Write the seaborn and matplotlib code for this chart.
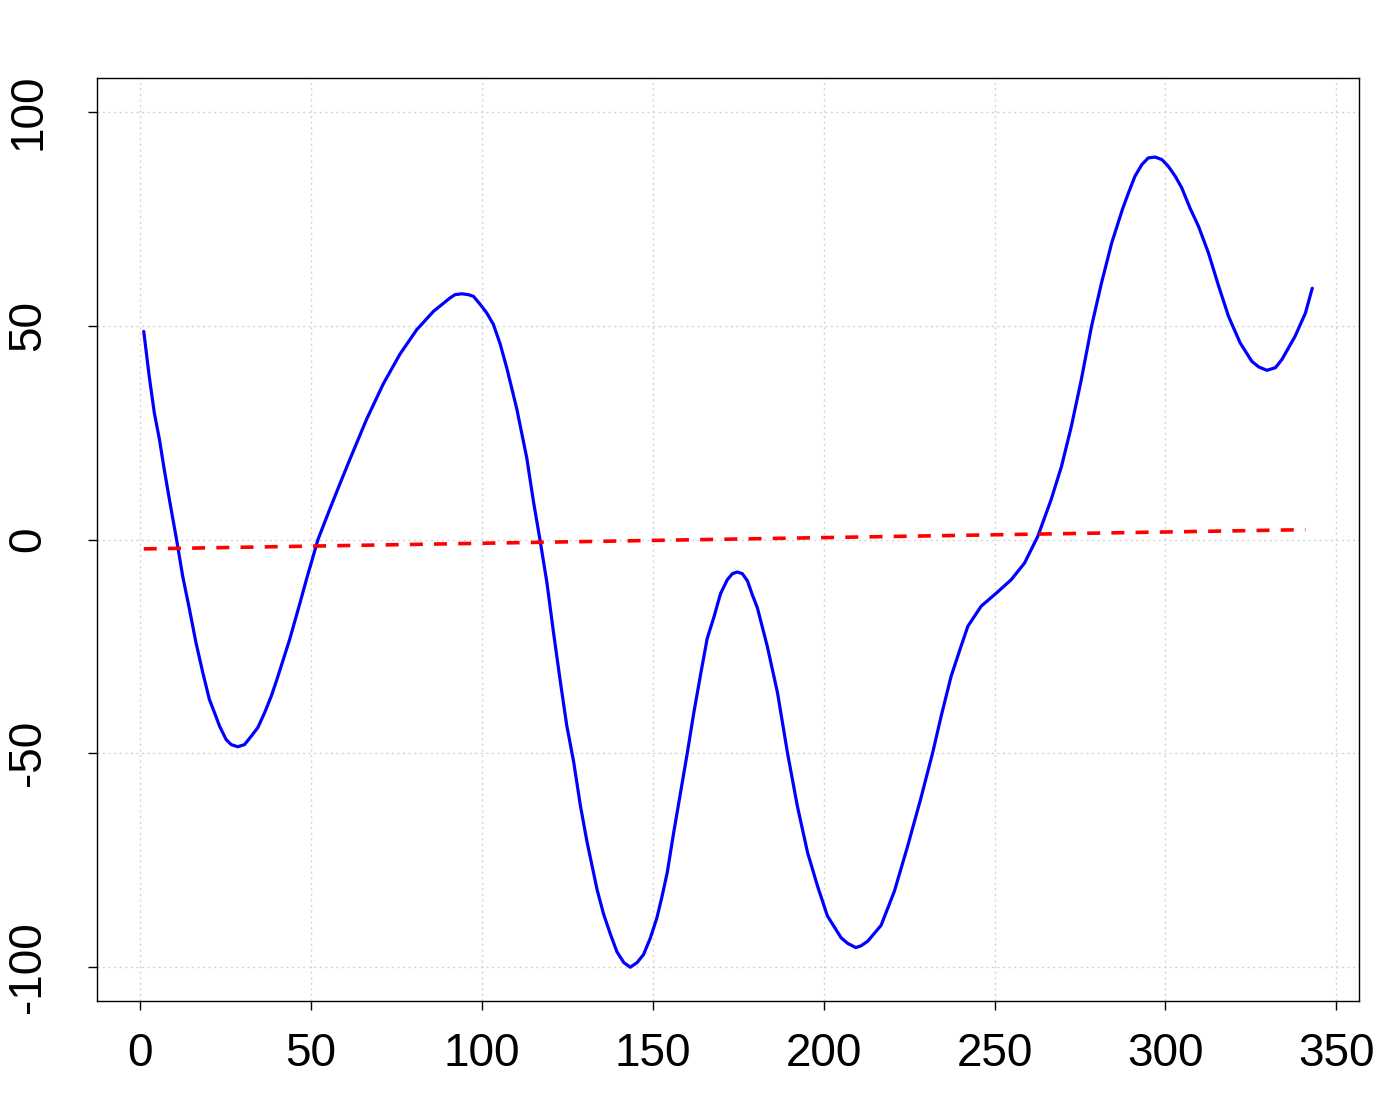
import matplotlib
matplotlib.use("Agg")
import matplotlib.pyplot as plt
import seaborn as sns
import pandas as pd

# Blue series
blue_x = [1.0, 2.6, 4.1, 5.6, 7.0, 8.5, 10.6, 12.4, 14.4, 16.3, 18.3, 20.2, 21.7, 23.2, 25.1,
          26.6, 28.5, 30.5, 32.5, 34.4, 36.4, 38.3, 40.0, 43.7, 46.5, 48.6, 52.0, 55.4, 58.5,
          61.3, 66.2, 71.1, 76.0, 80.9, 85.8, 90.6, 92.1, 94.1, 96.0, 97.5, 99.4, 101.4,
          103.3, 105.3, 107.3, 110.2, 113.1, 115.1, 117.0, 119.0, 120.9, 122.9, 124.8,
          126.8, 128.8, 130.7, 133.7, 135.6, 137.6, 139.5, 141.5, 143.4, 145.4, 147.3,
          149.3, 151.2, 152.7, 154.2, 156.1, 158.1, 160.1, 162.0, 164.0, 165.9, 167.9,
          169.8, 171.8, 173.3, 174.7, 176.2, 177.7, 179.1, 180.6, 182.1, 183.5, 186.5,
          189.4, 192.3, 195.3, 198.2, 201.1, 205.1, 207.0, 209.4, 210.9, 212.9, 216.8,
          220.7, 224.6, 228.5, 231.9, 234.4, 237.3, 240.2, 242.2, 246.1, 250.6, 254.9,
          258.8, 262.7, 266.6, 269.6, 272.5, 275.4, 278.4, 281.3, 284.3, 287.5, 289.2,
          291.1, 293.1, 295.0, 297.0, 299.0, 300.9, 302.9, 304.8, 307.2, 309.7, 312.6,
          315.6, 318.5, 321.9, 325.3, 327.3, 329.7, 332.2, 334.1, 338.0, 341.0, 343.0]
blue_y = [48.7, 38.2, 29.6, 23.4, 16.4, 9.4, 0.0, -8.6, -16.4, -24.2, -31.2, -37.4, -40.5, -43.7, -46.8,
          -48.0, -48.5, -48.0, -46.0, -44.0, -40.5, -36.7, -32.7, -23.4, -15.5, -9.4, 0.0, 7.0, 13.2,
          18.7, 28.1, 36.4, 43.4, 49.1, 53.4, 56.5, 57.3, 57.5, 57.3, 56.9, 55.1, 53.0,
          50.4, 45.8, 40.0, 30.5, 19.1, 8.7, -0.2, -10.1, -21.6, -33.1, -43.5,
          -51.9, -62.3, -70.6, -82.0, -87.7, -92.4, -96.5, -99.0, -100.1, -99.0, -97.1,
          -93.2, -88.5, -83.5, -78.0, -68.6, -59.3, -49.9, -40.5, -31.5, -23.2, -18.1,
          -12.7, -9.4, -8.0, -7.6, -8.0, -9.7, -12.9, -16.0, -20.7, -25.0, -35.9,
          -49.9, -62.4, -73.3, -81.1, -88.1, -93.2, -94.5, -95.5, -95.1, -94.0, -90.3,
          -82.3, -71.7, -60.4, -49.9, -41.3, -32.0, -25.0, -20.3, -15.6, -12.5, -9.4,
          -5.5, 0.8, 9.4, 17.1, 26.5, 37.4, 49.9, 60.0, 69.4, 77.4, 81.1,
          85.0, 87.7, 89.3, 89.5, 88.9, 87.3, 85.0, 82.3, 77.6, 73.3, 67.1,
          59.3, 52.2, 46.0, 41.7, 40.4, 39.6, 40.2, 42.1, 47.6, 53.0, 58.8]

# Red dashed trend
red_x = [1.0, 170.0, 341.0]
red_y = [-2.2, 0.05, 2.3]

x_ticks = [0, 50, 100, 150, 200, 250, 300, 350]
y_ticks = [-100, -50, 0, 50, 100]

sns.set_theme(style="white")
plt.rcParams['font.family'] = ['Liberation Sans', 'DejaVu Sans']

fig = plt.figure(figsize=(14, 11), dpi=100)
ax = fig.add_axes([97 / 1400, 1 - 1001 / 1100, (1359 - 97) / 1400, (1001 - 78) / 1100])

for xv in x_ticks:
    ax.axvline(xv, color="#D3D3D3", lw=1, ls=(0, (1.5, 2.5)), zorder=0)
for yv in y_ticks:
    ax.axhline(yv, color="#D3D3D3", lw=1, ls=(0, (1.5, 2.5)), zorder=0)

blue_df = pd.DataFrame({"x": blue_x, "y": blue_y})
red_df = pd.DataFrame({"x": red_x, "y": red_y})
sns.lineplot(data=blue_df, x="x", y="y", sort=False, estimator=None, color="#0000FF",
             lw=2.3, ax=ax, zorder=3)
ax.lines[-1].set_solid_joinstyle("round")
ax.lines[-1].set_solid_capstyle("round")
sns.lineplot(data=red_df, x="x", y="y", sort=False, estimator=None, color="#FF0000",
             lw=2.6, ax=ax, zorder=4)
ax.lines[-1].set_dashes((3.6, 3.1))
ax.lines[-1].set_dash_capstyle("butt")

ax.set_xlim(-12.68, 356.68)
ax.set_ylim(-108, 108)
ax.set_xticks(x_ticks)
ax.set_yticks(y_ticks)
ax.set_xticklabels([str(v) for v in x_ticks])
ax.set_yticklabels([str(v) for v in y_ticks], rotation=90, va="center")
ax.set_xlabel("")
ax.set_ylabel("")
ax.tick_params(axis="both", direction="out", length=6.5, width=1, color="black",
               labelsize=33, labelcolor="black", bottom=True, left=True)
ax.tick_params(axis="x", pad=16)
ax.tick_params(axis="y", pad=27)
for s in ax.spines.values():
    s.set_color("black")
    s.set_linewidth(1)
    s.set_visible(True)

fig.savefig("out.png", dpi=100, facecolor="white")
